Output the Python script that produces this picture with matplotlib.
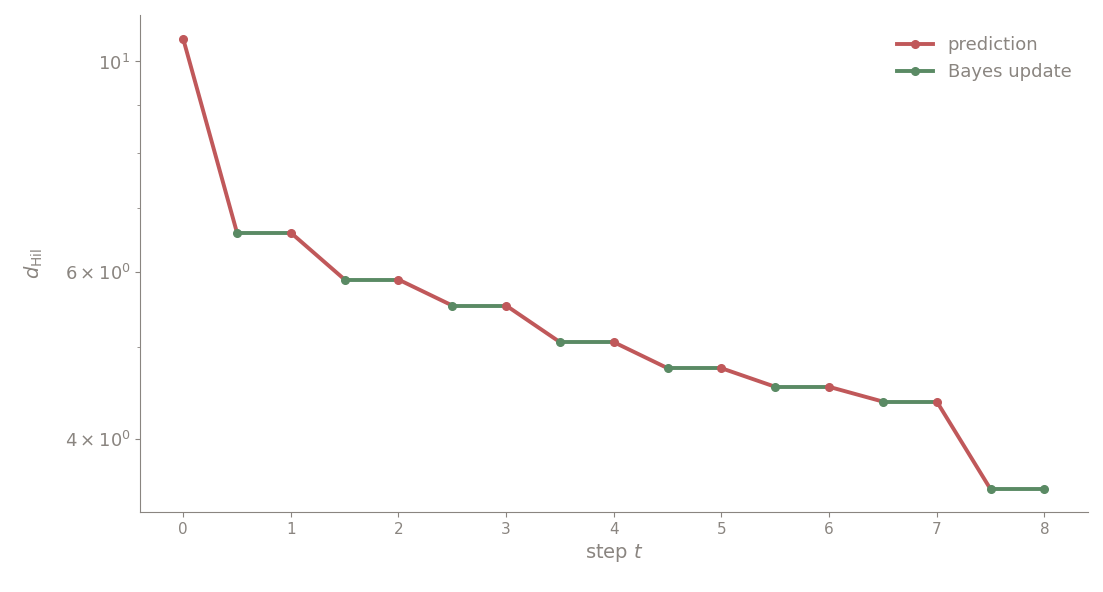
import matplotlib.pyplot as plt
import matplotlib.ticker as mticker

steps = [0, 1, 2, 3, 4, 5, 6, 7, 8]
pred_vals = [10.57, 6.60, 5.89, 5.53, 5.06, 4.75, 4.54, 4.38]   # before prediction
upd_vals = [6.60, 5.89, 5.53, 5.06, 4.75, 4.54, 4.38, 3.54]     # after prediction / update

red = '#c0585a'
green = '#5a8a64'
gray = '#8a8580'

plt.rcParams['font.size'] = 13
fig = plt.figure(figsize=(11.03, 5.92), dpi=100)
ax = fig.add_axes([0.127, 0.135, 0.859, 0.84])

for i in range(len(pred_vals)):
    t = steps[i]
    # red segment: marker at its start (integer step)
    ax.plot([t, t + 0.5], [pred_vals[i], upd_vals[i]], color=red, lw=2.8, zorder=2)
    ax.plot([t], [pred_vals[i]], 'o', color=red, ms=5.5, zorder=4)
    ax.plot([t + 0.5, t + 1], [upd_vals[i], upd_vals[i]], color=green, lw=2.8, zorder=3)
    ax.plot([t + 0.5], [upd_vals[i]], 'o', color=green, ms=5.5, zorder=4)
ax.plot([steps[-1]], [upd_vals[-1]], 'o', color=green, ms=5.5, zorder=4)

# legend proxies
ax.plot([], [], color=red, lw=2.8, marker='o', ms=5.5, label='prediction')
ax.plot([], [], color=green, lw=2.8, marker='o', ms=5.5, label='Bayes update')

ax.set_yscale('log')
ax.set_ylim(3.35, 11.2)
ax.set_xlim(-0.4, 8.4)
ax.set_xticks(steps)
ax.yaxis.set_major_locator(mticker.FixedLocator([4, 6, 10]))
ax.yaxis.set_major_formatter(mticker.FixedFormatter([r'$4\times10^0$', r'$6\times10^0$', r'$10^1$']))
ax.yaxis.set_minor_locator(mticker.FixedLocator([5, 7, 8, 9]))
ax.yaxis.set_minor_formatter(mticker.NullFormatter())

for s in ['top', 'right']:
    ax.spines[s].set_visible(False)
for s in ['left', 'bottom']:
    ax.spines[s].set_color(gray)
ax.tick_params(colors=gray, which='both')
ax.tick_params(axis='x', labelsize=11)
ax.tick_params(axis='y', labelsize=13)
ax.set_xlabel('step $t$', color=gray, fontsize=14)
ax.set_ylabel(r'$d_{\mathrm{Hil}}$', color=gray, fontsize=14, labelpad=14)

leg = ax.legend(frameon=False, loc='upper right', fontsize=13, bbox_to_anchor=(1.0, 0.99))
for txt in leg.get_texts():
    txt.set_color(gray)

fig.savefig('out.png', dpi=100)
